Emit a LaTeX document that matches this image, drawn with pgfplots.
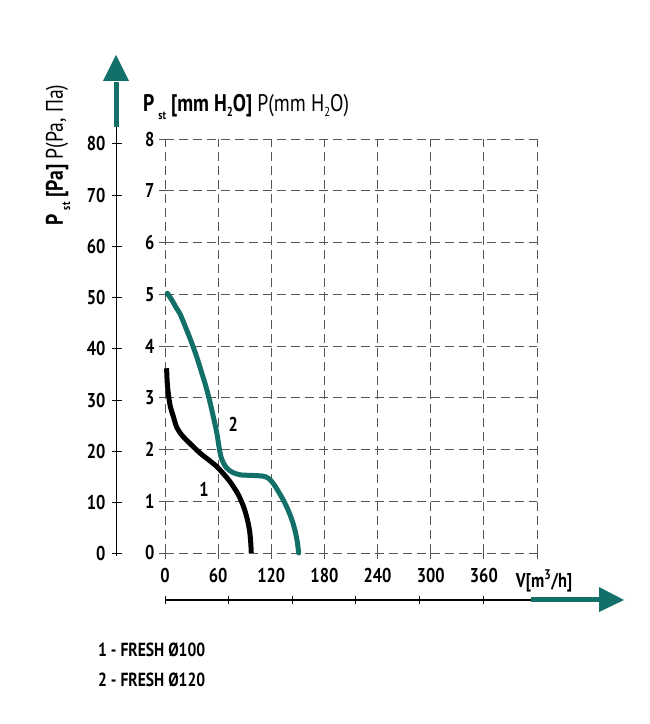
\documentclass[border=0pt]{standalone}
\usepackage{pgfplots}
\pgfplotsset{compat=1.18}
\usepackage{fontspec}
\setmainfont{PT Sans}[FakeStretch=0.82]
\definecolor{tealc}{RGB}{18,112,104}
\definecolor{gridc}{RGB}{85,85,85}
\begin{document}
\begin{tikzpicture}[x=1pt,y=1pt]
\useasboundingbox (0,0) rectangle (649,724);
% main axis (mm H2O scale, grid)
\begin{axis}[
  at={(165pt,171pt)}, anchor=south west,
  scale only axis, width=372pt, height=414pt,
  xmin=0, xmax=420, ymin=0, ymax=80,
  xtick={0,60,...,420}, ytick={0,10,...,80},
  xtick pos=bottom, ytick pos=left,
  xticklabels={0,60,120,180,240,300,360,{}},
  yticklabels={0,1,2,3,4,5,6,7,8},
  grid=major,
  grid style={dash pattern=on 9pt off 5pt, line width=0.9pt, color=gridc},
  axis line style={draw=none},
  tick align=outside, major tick length=6pt,
  tick style={gridc, line width=0.9pt},
  /pgf/number format/assume math mode=true,
  ticklabel style={font=\bfseries\fontsize{20}{20}\selectfont},
  xticklabel style={yshift=-6pt},
  yticklabel style={xshift=-1pt},
  clip=false,
]
\addplot[black, line width=5pt, smooth, tension=0.5] coordinates {
 (1.8,35.7) (2.5,33) (3.7,30.9) (6,28.3) (9.4,26.4) (13,24.4) (18.9,22.8) (28,21.2) (39.6,19.3) (50,17.9) (58.5,16.7) (66,15.3) (72,14.1) (77.3,12.8) (83,11.2) (88.6,9) (92.5,6.8) (95.4,4.4) (96.8,2) (97.4,0)
};
\addplot[tealc, line width=5pt, smooth, tension=0.5, line cap=round] coordinates {
 (2.6,50.2) (8,48.8) (13,47.3) (17,46.2) (24,43.3) (30.2,40.6) (36,37.8) (41.5,34.8) (46.5,32) (51,29) (55,26) (58.5,23.2) (61,20.5) (63.2,18.6) (66,17.4) (69.8,16.4) (76,15.6) (85,15.1) (97,15) (108,14.9) (114,14.7) (119,14.1) (124,13) (129,11.6) (134,10.1) (139,8.3) (143.5,6.3) (147,4.2) (149.5,2) (150.9,0)
};
\node[font=\bfseries\fontsize{20}{20}\selectfont] at (axis cs:44,12.2) {1};
\node[font=\bfseries\fontsize{20}{20}\selectfont] at (axis cs:77,24.8) {2};
\node[font=\bfseries\fontsize{20}{20}\selectfont, anchor=base] at (axis cs:428,-6.6) {V[m\textsuperscript{3}/h]};
\end{axis}
% Pa axis (left)
\begin{axis}[
  at={(117pt,170pt)}, anchor=south west,
  scale only axis, width=10pt, height=410pt,
  xmin=0, xmax=1, ymin=0, ymax=80,
  hide x axis, axis y line*=left,
  y axis line style={draw=none},
  ytick={0,10,...,80},
  tick align=center, major tick length=10pt,
  ytick style={black, line width=1pt},
  /pgf/number format/assume math mode=true,
  yticklabel style={font=\bfseries\fontsize{20}{20}\selectfont, xshift=-3pt},
]
\addplot[draw=none] coordinates {(0,0) (1,80)};
\end{axis}
% left axis line + arrow
\draw[black, line width=1.2pt] (116.5,168) -- (116.5,598);
\fill[tealc] (114,597) rectangle (119,642);
\fill[tealc] (103,643) -- (129,643) -- (116,669) -- cycle;
% bottom axis line + arrow
\draw[black, line width=1.2pt] (165,124) -- (532,124);
\foreach \xx in {165,228.6,292.2,355.8,419.4,483} {\draw[black, line width=1pt] (\xx,120) -- (\xx,128);}
\fill[tealc] (531,121.5) rectangle (600,126.5);
\fill[tealc] (599,137) -- (599,112) -- (624,124) -- cycle;
% titles
\node[anchor=base west, inner sep=0pt, font=\fontsize{24}{24}\selectfont] at (143,612)
 {\bfseries P\,\raisebox{-0.6ex}{\fontsize{12}{12}\selectfont st} [mm H\raisebox{-0.4ex}{\fontsize{13}{13}\selectfont 2}O]\mdseries{} P(mm H\raisebox{-0.4ex}{\fontsize{13}{13}\selectfont 2}O)};
\node[rotate=90, anchor=base, inner sep=0pt, font=\fontsize{24}{24}\selectfont] at (63,569)
 {\bfseries P\,\raisebox{-0.6ex}{\fontsize{12}{12}\selectfont st} [Pa]\mdseries{} P(Pa, Па)};
% legend
\node[anchor=west, inner sep=0pt, font=\bfseries\fontsize{19}{19}\selectfont] at (98,74) {1 - FRESH Ø100};
\node[anchor=west, inner sep=0pt, font=\bfseries\fontsize{19}{19}\selectfont] at (98,44) {2 - FRESH Ø120};
\end{tikzpicture}
\end{document}
